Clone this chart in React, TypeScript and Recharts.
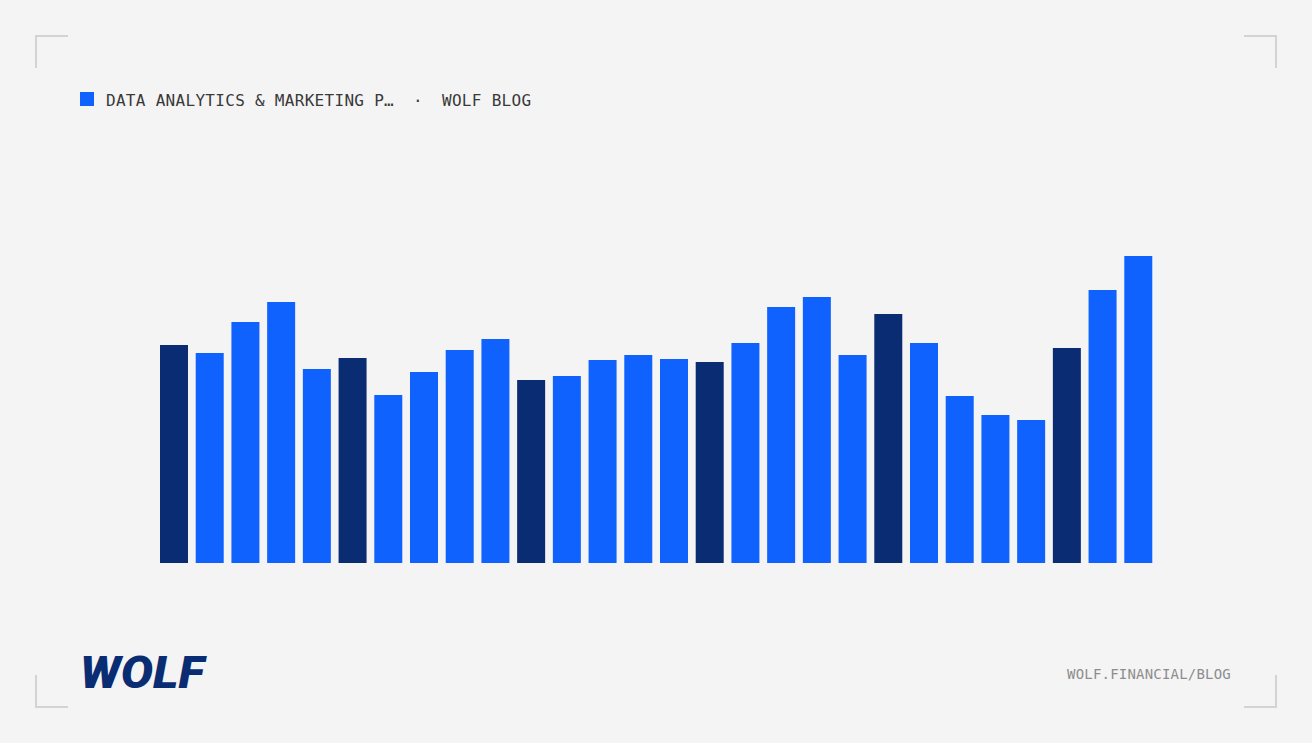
import React from "react";
import { BarChart, Bar, XAxis, YAxis, Cell } from "recharts";

const categories = [
  "01", "02", "03", "04", "05", "06", "07", "08", "09", "10",
  "11", "12", "13", "14", "15", "16", "17", "18", "19", "20",
  "21", "22", "23", "24", "25", "26", "27", "28",
];

const values = [
  218, 210, 241, 261, 194, 205, 168, 191, 213, 224,
  183, 187, 203, 208, 204, 201, 220, 256, 266, 208,
  249, 220, 167, 148, 143, 215, 273, 307,
];

const emphasized = ["01", "06", "11", "16", "21", "26"];

const data = categories.map((name, i) => ({ name, value: values[i] }));

const BLUE = "#0f62fe";
const NAVY = "#0a2c72";
const BRACKET = "#d3d3d3";
const MONO = "'DejaVu Sans Mono', 'Liberation Mono', monospace";

const Bracket = ({ x, y, h, v }: { x: number; y: number; h: "l" | "r"; v: "t" | "b" }) => {
  const len = 33;
  const t = 2;
  return (
    <>
      <div
        style={{
          position: "absolute",
          left: h === "l" ? x : x - len,
          top: v === "t" ? y : y - t,
          width: len,
          height: t,
          background: BRACKET,
        }}
      />
      <div
        style={{
          position: "absolute",
          left: h === "l" ? x : x - t,
          top: v === "t" ? y : y - len,
          width: t,
          height: len,
          background: BRACKET,
        }}
      />
    </>
  );
};

export default function App() {
  return (
    <div
      style={{
        position: "absolute",
        left: 0,
        top: 0,
        width: 1312,
        height: 743,
        background: "#f4f4f4",
        overflow: "hidden",
      }}
    >
      <Bracket x={35} y={35} h="l" v="t" />
      <Bracket x={1277} y={35} h="r" v="t" />
      <Bracket x={35} y={708} h="l" v="b" />
      <Bracket x={1277} y={708} h="r" v="b" />

      <div
        style={{
          position: "absolute",
          left: 80,
          top: 92,
          width: 14,
          height: 14,
          background: BLUE,
        }}
      />
      <div
        style={{
          position: "absolute",
          left: 106,
          top: 91,
          fontFamily: MONO,
          fontSize: 16,
          letterSpacing: 0.3,
          color: "#393939",
          whiteSpace: "nowrap",
          lineHeight: "20px",
        }}
      >
        DATA ANALYTICS &amp; MARKETING P…
      </div>
      <div
        style={{
          position: "absolute",
          left: 413,
          top: 91,
          fontFamily: MONO,
          fontSize: 16,
          color: "#393939",
          lineHeight: "20px",
        }}
      >
        ·
      </div>
      <div
        style={{
          position: "absolute",
          left: 442,
          top: 91,
          fontFamily: MONO,
          fontSize: 16,
          letterSpacing: 0.3,
          color: "#393939",
          whiteSpace: "nowrap",
          lineHeight: "20px",
        }}
      >
        WOLF BLOG
      </div>

      <div style={{ position: "absolute", left: 156, top: 243 }}>
        <BarChart
          width={1000}
          height={320}
          data={data}
          margin={{ top: 0, right: 0, bottom: 0, left: 0 }}
          barSize={28}
        >
          <XAxis dataKey="name" hide />
          <YAxis hide domain={[0, 320]} />
          <Bar dataKey="value" isAnimationActive={false}>
            {data.map((d) => (
              <Cell key={d.name} fill={emphasized.includes(d.name) ? NAVY : BLUE} />
            ))}
          </Bar>
        </BarChart>
      </div>

      <svg
        style={{ position: "absolute", left: 70, top: 645, overflow: "visible" }}
        width={170}
        height={56}
      >
        <text
          x={10}
          y={43}
          textLength={124}
          lengthAdjust="spacingAndGlyphs"
          fontFamily="Roboto, 'DejaVu Sans', sans-serif"
          fontWeight={900}
          fontStyle="italic"
          fontSize={45}
          fill={NAVY}
        >
          WOLF
        </text>
      </svg>

      <div
        style={{
          position: "absolute",
          left: 1067,
          top: 665,
          fontFamily: MONO,
          fontSize: 14,
          letterSpacing: 0.2,
          color: "#8d8d8d",
          whiteSpace: "nowrap",
          lineHeight: "18px",
        }}
      >
        WOLF.FINANCIAL/BLOG
      </div>
    </div>
  );
}
